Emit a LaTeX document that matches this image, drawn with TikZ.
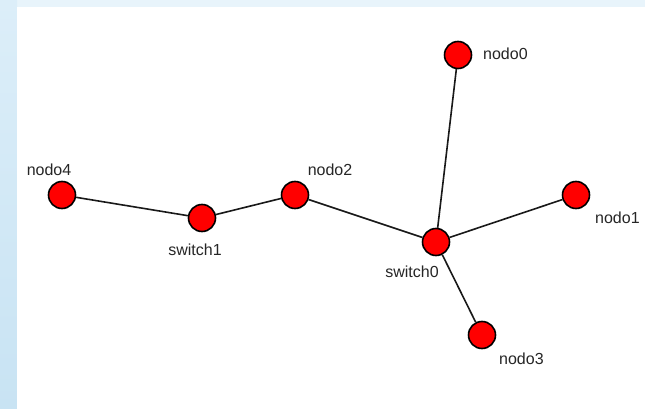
\documentclass[tikz,border=0pt]{standalone}
\usepackage{fontspec}
\setmainfont{Liberation Sans}
\definecolor{skytop}{HTML}{E8F4FB}
\definecolor{skyleft}{HTML}{DCEEF9}
\definecolor{skylow}{HTML}{C8E3F3}
\begin{document}
\begin{tikzpicture}[x=1pt,y=-1pt,
  vertex/.style={circle,draw=black,line width=1.6pt,fill=red,minimum size=27pt,inner sep=0pt},
  lbl/.style={font=\fontsize{16}{18}\selectfont,text=black!85,inner sep=0pt},
  link/.style={draw=black!90,line width=1.6pt}]
  % backdrop and white canvas
  \useasboundingbox (0,0) rectangle (645,409);
  \fill[skytop] (0,0) rectangle (645,409);
  \shade[top color=skyleft, bottom color=skylow] (0,0) rectangle (17,409);
  \fill[white] (17,7) rectangle (645,409);
  % vertices
  \node[vertex] (n0) at (458,55) {};
  \node[vertex] (n1) at (576,195) {};
  \node[vertex] (s0) at (436,242) {};
  \node[vertex] (n3) at (482,335) {};
  \node[vertex] (n4) at (62,195) {};
  \node[vertex] (s1) at (202,218) {};
  \node[vertex] (n2) at (295,195) {};
  % links
  \draw[link] (n4) -- (s1);
  \draw[link] (s1) -- (n2);
  \draw[link] (n2) -- (s0);
  \draw[link] (s0) -- (n0);
  \draw[link] (s0) -- (n1);
  \draw[link] (s0) -- (n3);
  % labels
  \node[lbl,anchor=west] (t0) at (483,54) {nodo0};
  \node[lbl,anchor=west] (t1) at (595,218) {nodo1};
  \node[lbl] (ts0) at (412,272) {switch0};
  \node[lbl,anchor=west] (t3) at (499,359) {nodo3};
  \node[lbl] (t4) at (49,170) {nodo4};
  \node[lbl] (ts1) at (195,250) {switch1};
  \node[lbl] (t2) at (330,170) {nodo2};
\end{tikzpicture}
\end{document}
